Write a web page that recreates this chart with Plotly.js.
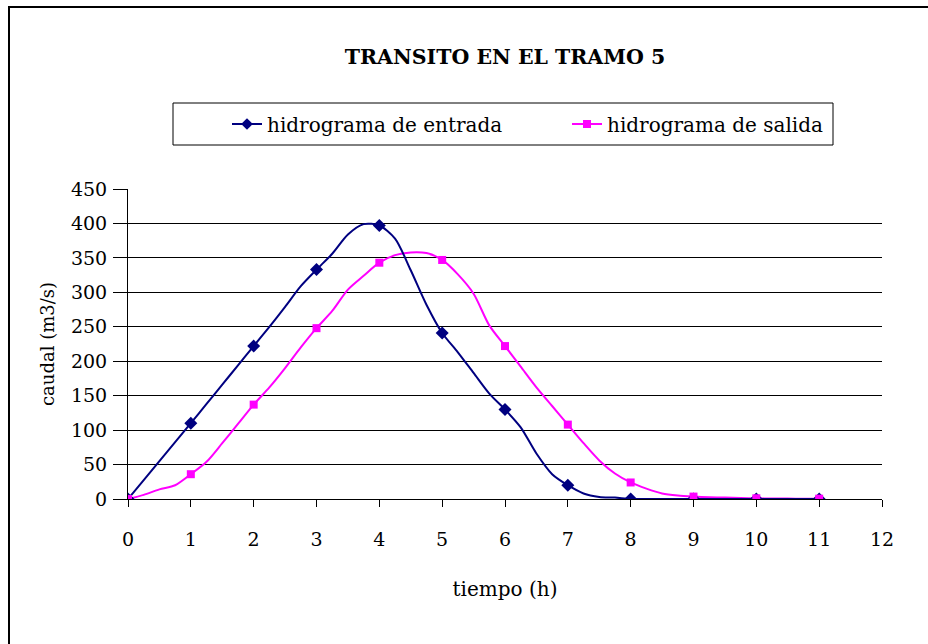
<!DOCTYPE html>
<html>
<head>
<meta charset="utf-8">
<script src="https://cdn.plot.ly/plotly-3.0.1.min.js"></script>
<style>html,body{margin:0;padding:0;background:#fff;}#chart{width:928px;height:644px;}</style>
</head>
<body>
<div id="chart"></div>
<script>
const tiempo = [0,0.25,0.5,0.75,1,1.25,1.5,1.75,2,2.25,2.5,2.75,3,3.25,3.5,3.75,4,4.25,4.5,4.75,5,5.25,5.5,5.75,6,6.25,6.5,6.75,7,7.25,7.5,7.75,8,8.25,8.5,8.75,9,9.25,9.5,9.75,10,10.25,10.5,10.75,11];
const entrada = [0,27.5,55,82.5,110,138,166,194,222,250,279,309,333,356,384,399,397,378,332,282,241,213,183,153,130,104,66,36,20,8,3,2,0,0,0,0,0,0,0,0,0,0,0,0,0];
const salida = [0,6,14,20,36,54,81,109,137,162,190,220,248,273,304,324,343,354,358,357,347,326,298,252,222,192,162,135,108,81,56,37,24,15,8,5,3.5,2.5,2,1.5,1,0.8,0.6,0.5,0.5];
const nombres = ['hidrograma de entrada','hidrograma de salida'];
const tituloGrafico = 'TRANSITO EN EL TRAMO 5';
const tituloX = 'tiempo (h)';
const tituloY = 'caudal (m3/s)';

const azul = '#000080', rosa = '#FF00FF';
const esHora = tiempo.map(t => Number.isInteger(t));
const pick = (arr) => arr.filter((v,i) => esHora[i]);

const font = '"DejaVu Serif", serif';

const traces = [
  {x: tiempo, y: salida, mode:'lines', line:{color:rosa, width:2, shape:'spline', smoothing:0.8}, showlegend:false, hoverinfo:'skip'},
  {x: tiempo, y: entrada, mode:'lines', line:{color:azul, width:2, shape:'spline', smoothing:0.8}, showlegend:false, hoverinfo:'skip'},
  {x: pick(tiempo), y: pick(entrada), mode:'markers', marker:{symbol:'diamond', size:10, color:azul}, showlegend:false},
  {x: pick(tiempo), y: pick(salida), mode:'markers', marker:{symbol:'square', size:8, color:rosa}, showlegend:false},
  {x:[null], y:[null], mode:'lines+markers', name:nombres[0], line:{color:azul, width:2}, marker:{symbol:'diamond', size:9, color:azul}},
  {x:[null], y:[null], mode:'lines+markers', name:nombres[1], line:{color:rosa, width:2}, marker:{symbol:'square', size:8, color:rosa}}
];

const L=128, R=46, T=189, B=145, W=928-L-R, H=644-T-B;
const px = v => (v - L)/W;
const py = v => (644 - B - v)/H;

const layout = {
  width:928, height:644,
  margin:{l:L, r:R, t:T, b:B, pad:0},
  paper_bgcolor:'#fff', plot_bgcolor:'#fff',
  font:{family:font, color:'#000', size:19},
  title:{text:'<b>'+tituloGrafico+'</b>', x:0.5, xref:'paper', xanchor:'center', y:1-57/644, yanchor:'middle', font:{family:font, size:20.5, color:'#000'}},
  xaxis:{range:[0,12], dtick:1, tick0:0, showgrid:false, zeroline:false, showline:true, linecolor:'#000', linewidth:1,
         ticks:'outside', ticklen:7, tickcolor:'#000', ticklabelstandoff:16, tickfont:{family:font, size:19},
         title:{text:tituloX, standoff:33, font:{family:font, size:20}}},
  yaxis:{range:[0,450], dtick:50, tick0:0, showgrid:true, gridcolor:'#000', gridwidth:1, zeroline:false, showline:true, linecolor:'#000', linewidth:1,
         ticks:'outside', ticklen:14, tickcolor:'#000', ticklabelstandoff:2, tickfont:{family:font, size:19},
         title:{text:tituloY, standoff:11, font:{family:font, size:18}}},
  legend:{orientation:'h', xref:'container', yref:'container', x:227/928, xanchor:'left', y:1-124/644, yanchor:'middle',
          bgcolor:'rgba(0,0,0,0)', borderwidth:0, entrywidth:295, font:{family:font, size:20}},
  shapes:[
    {type:'rect', xref:'paper', yref:'paper', x0:px(9), x1:px(940), y0:py(660), y1:py(7), line:{color:'#000', width:2}, fillcolor:'rgba(0,0,0,0)', layer:'below'},
    {type:'rect', xref:'paper', yref:'paper', x0:px(173), x1:px(833), y0:py(145), y1:py(103), line:{color:'#000', width:1}, fillcolor:'rgba(0,0,0,0)'}
  ],
  showlegend:true
};

Plotly.newPlot('chart', traces, layout, {displayModeBar:false, staticPlot:true});
</script>
</body>
</html>
